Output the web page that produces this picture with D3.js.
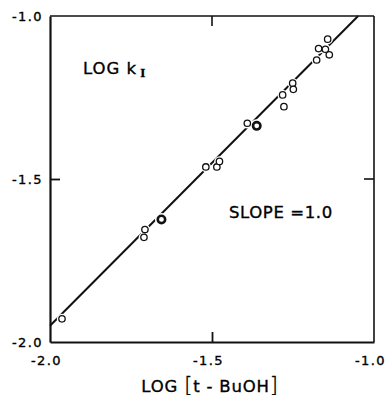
<!DOCTYPE html>
<html>
<head>
<meta charset="utf-8">
<script src="https://cdn.jsdelivr.net/npm/d3@7"></script>
<style>
  body { margin: 0; background: #fff; }
  svg text { font-family: "DejaVu Sans", sans-serif; fill: #000; stroke: #000; stroke-width: 0.35px; }
</style>
</head>
<body>
<svg width="387" height="403"></svg>
<script>
// log [t-BuOH] vs log kI
let logBuOH = [-1.963, -1.710, -1.707, -1.656, -1.519, -1.485, -1.477, -1.391, -1.362,
               -1.282, -1.278, -1.251, -1.249, -1.177, -1.171, -1.150, -1.138, -1.143];
let logK    = [-1.929, -1.679, -1.655, -1.624, -1.463, -1.463, -1.446, -1.329, -1.337,
               -1.242, -1.278, -1.206, -1.225, -1.135, -1.100, -1.102, -1.119, -1.071];
// heavier circles (duplicate points)
let heavy   = [0, 0, 0, 1, 0, 0, 0, 0, 1, 0, 0, 0, 0, 0, 0, 0, 0, 0];

// fitted line, slope 1.0
let fitX = [-2.0, -1.049];
let fitY = [-1.95, -1.0];

let tickVals = [-2.0, -1.5, -1.0];

let svg = d3.select('svg');
let margin = { left: 50, right: 13, top: 16, bottom: 61 };
let width = svg.attr("width") - margin.left - margin.right;
let height = svg.attr("height") - margin.top - margin.bottom;

let xScale = d3.scaleLinear().domain([-2, -1]).range([0, width]);
let yScale = d3.scaleLinear().domain([-2, -1]).range([height, 0]);

let fmt = d => (d < 0 ? "-" : "") + Math.abs(d).toFixed(1);

let g = svg.append("g")
    .attr("transform", "translate(" + margin.left + "," + margin.top + ")");

// frame: top and right
g.append("line").attr("x1", 0).attr("x2", width).attr("y1", 0).attr("y2", 0)
    .style("stroke", "#111").style("stroke-width", 1.6);
g.append("line").attr("x1", width).attr("x2", width).attr("y1", 0).attr("y2", height)
    .style("stroke", "#111").style("stroke-width", 1.6);

// inward ticks on top / right
g.selectAll(".ttick").data(tickVals.slice(1, 2)).enter().append("line")
    .attr("x1", d => xScale(d)).attr("x2", d => xScale(d))
    .attr("y1", 0).attr("y2", 10)
    .style("stroke", "#111").style("stroke-width", 1.6);
g.selectAll(".rtick").data(tickVals.slice(1, 2)).enter().append("line")
    .attr("x1", width - 10).attr("x2", width)
    .attr("y1", d => yScale(d)).attr("y2", d => yScale(d))
    .style("stroke", "#111").style("stroke-width", 1.6);

let xAxis = d3.axisBottom(xScale).tickValues(tickVals).tickSize(-10).tickSizeOuter(0)
    .tickPadding(14).tickFormat(fmt);
let yAxis = d3.axisLeft(yScale).tickValues(tickVals).tickSize(-10).tickSizeOuter(0)
    .tickPadding(17).tickFormat(fmt);

let gx = g.append('g')
    .attr("transform", "translate(0," + height + ")")
    .call(xAxis);
let gy = g.append('g').call(yAxis);

[gx, gy].forEach(a => {
    a.select(".domain").style("stroke", "#111").style("stroke-width", 2.2);
    a.selectAll(".tick line").style("stroke", "#111").style("stroke-width", 1.8);
    a.selectAll(".tick text")
        .style("font-size", "13px")
        .style("letter-spacing", "1.4px")
        .style("fill", "#000");
});
// end ticks hidden (frame edges)
gx.selectAll(".tick line").filter(d => d !== -1.5).remove();
gy.selectAll(".tick line").filter(d => d !== -1.5).remove();
gx.selectAll(".tick text").attr("dx", "-4");
gy.selectAll(".tick text").attr("dy", "0.36em").attr("x", -7).attr("dx", 0);

// fitted line
g.append("path")
    .datum(fitX.map((x, i) => [x, fitY[i]]))
    .attr("d", d3.line().x(d => xScale(d[0])).y(d => yScale(d[1])))
    .style("fill", "none").style("stroke", "#111").style("stroke-width", 2);

let pts = logBuOH.map((x, i) => ({ x: x, y: logK[i], h: heavy[i] }));

// white halo to break the line around each point
g.selectAll(".halo").data(pts).enter().append("circle")
    .attr("cx", d => xScale(d.x)).attr("cy", d => yScale(d.y))
    .attr("r", d => d.h ? 6.5 : 5.2)
    .style("fill", "#fff");

g.selectAll(".point").data(pts).enter().append("circle")
    .attr("class", "point")
    .attr("cx", d => xScale(d.x)).attr("cy", d => yScale(d.y))
    .attr("r", d => d.h ? 3.7 : 3.2)
    .style("fill", "#fff")
    .style("stroke", "#111")
    .style("stroke-width", d => d.h ? 2.6 : 1.3);

// labels
let lk = svg.append("text")
    .attr("x", 83).attr("y", 74)
    .style("font-size", "16.5px").style("letter-spacing", "1px");
lk.append("tspan").text("LOG k");
lk.append("tspan").attr("dx", 3).attr("dy", 3)
    .style("font-family", "'Liberation Serif', serif")
    .style("font-size", "13px").style("font-weight", "bold").text("I");

svg.append("text")
    .attr("x", 229).attr("y", 218)
    .style("font-size", "16.5px").style("letter-spacing", "0.6px")
    .text("SLOPE =1.0");

let xt = svg.append("text")
    .attr("x", 210).attr("y", 392)
    .attr("text-anchor", "middle")
    .style("font-size", "16.5px").style("letter-spacing", "0.8px");
xt.append("tspan").text("LOG ");
xt.append("tspan").style("font-size", "21px").style("font-weight", "300").text("[");
xt.append("tspan").text("t - BuOH");
xt.append("tspan").style("font-size", "21px").style("font-weight", "300").text("]");
</script>
</body>
</html>
